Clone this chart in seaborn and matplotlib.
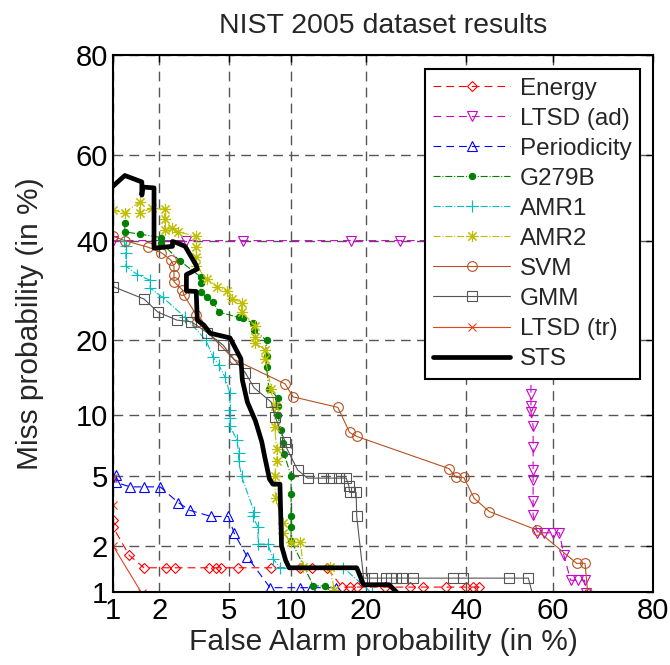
import numpy as np
import matplotlib
matplotlib.use("Agg")
import matplotlib.pyplot as plt
import seaborn as sns
from statistics import NormalDist

# ---------------- data (percent) ----------------
ticks = [1, 2, 5, 10, 20, 40, 60, 80]
tick_labels = ["1", "2", "5", "10", "20", "40", "60", "80"]

energy_fa = [1.0, 1.0, 1.28, 1.6, 2.2, 2.48, 3.9, 4.25, 4.5, 5.55, 8.1, 11.0, 12.3, 14.2,
             16.3, 17.5, 18.5, 23.3, 28.0, 30.5, 35.5, 40.0, 41.5, 43.0]
energy_miss = [2.85, 2.6, 1.75, 1.45, 1.45, 1.45, 1.45, 1.45, 1.45, 1.45, 1.45, 1.45, 1.45, 1.45,
               1.08, 1.08, 1.08, 1.08, 1.08, 1.08, 1.08, 1.08, 1.08, 1.08]

ltsd_ad_fa = [1.0, 2.9, 5.9, 17.6, 26.0, 55.0, 55.0, 55.0, 55.0, 55.5, 55.5, 55.5, 55.5, 55.5,
              55.5, 56.5, 58.0, 60.0, 61.5, 62.5, 64.0, 65.5, 67.0, 67.3]
ltsd_ad_miss = [40, 40, 40, 40, 40, 40, 12.3, 11.0, 10.3, 8.9, 7.1, 5.4, 4.8, 3.7,
                3.05, 2.4, 2.4, 2.4, 2.4, 1.75, 1.2, 1.2, 1.2, 0.98]

period_fa = [1.05, 1.05, 1.3, 1.6, 2.02, 2.6, 3.05, 4.0, 4.95, 5.3, 6.2, 8.0, 11.0, 12.2, 15.4]
period_miss = [5.1, 4.65, 4.4, 4.4, 4.4, 3.6, 3.25, 3.0, 3.0, 2.4, 1.7, 1.07, 1.07, 1.07, 1.07]

g279b_fa = [1.2, 1.2, 1.5, 2.05, 2.05, 2.65, 3.5, 3.5, 3.5, 3.8, 4.1, 4.4, 5.6, 5.9, 6.6, 6.7,
            7.7, 7.7, 7.7, 7.9, 8.7, 8.7, 8.7, 9.0, 9.2, 9.3, 10.0, 10.0, 10.0, 10.0, 10.0,
            12.5, 14.0, 15.0]
g279b_miss = [44, 42, 41.5, 40.7, 39.5, 35.5, 32, 30.7, 28.9, 27.8, 26.9, 25, 24, 23.8, 23, 21.7,
              20, 17.5, 15.9, 13, 11.9, 11, 10, 8.5, 7.4, 6.5, 5.05, 4.0, 3.0, 2.6, 2.15,
              1.1, 1.1, 0.97]

amr1_fa = [1.18, 1.22, 1.22, 1.22, 1.45, 1.75, 1.75, 2.1, 2.85, 3.75, 4.1, 4.4, 4.75, 5.05,
           5.05, 5.05, 5.05, 5.5, 5.6, 5.6, 5.8, 6.7, 6.6, 7.0, 7.0, 7.8, 8.3, 8.9, 16.5, 21.0]
amr1_miss = [40, 38.8, 37.3, 34.3, 32.5, 31.3, 29.7, 27.8, 24, 20, 17.3, 16.2, 14.5, 12.4,
             10.5, 9.7, 8.9, 7.6, 6.6, 6.0, 5.0, 3.2, 3.0, 2.6, 2.05, 2.05, 1.65, 1.45, 1.45, 0.98]

amr2_fa = [1.0, 1.2, 1.5, 1.5, 1.8, 2.15, 2.15, 2.15, 2.4, 2.6, 3.3, 3.3, 3.3, 3.3, 3.8, 4.3,
           4.9, 5.2, 5.8, 5.8, 6.8, 6.8, 6.8, 7.6, 7.6, 8.1, 8.4, 8.4, 8.6, 8.6, 8.4, 8.5,
           9.2, 9.2, 10.0, 11.0, 11.3, 14.6, 15.2]
amr2_miss = [47, 46.5, 49, 46.5, 47.5, 47.3, 45, 42.4, 42.8, 42, 41, 38.5, 36.3, 34.3, 31.5, 30,
             29, 27.5, 26.8, 25, 22.5, 20.6, 19.5, 18.5, 17, 13, 11, 8.8, 6.9, 6.0, 5.05, 3.8,
             2.75, 2.4, 2.1, 2.1, 1.47, 1.47, 1.03]

svm_fa = [1.0, 1.2, 1.7, 2.05, 2.35, 2.45, 2.45, 2.45, 2.75, 2.8, 3.3, 3.35, 5.3, 9.4, 10.2,
          15.7, 17.4, 18.5, 36.1, 37.7, 39.4, 41.8, 45.3, 56.3, 65.3, 67.1, 67.7]
svm_miss = [41, 40, 38.5, 37.3, 35.6, 34.3, 32.5, 31, 29.3, 28.3, 24.5, 23.2, 17, 13.6, 12,
            10.8, 8.3, 7.95, 5.5, 4.95, 4.95, 3.8, 3.2, 2.5, 1.55, 1.55, 0.97]

gmm_fa = [1.0, 1.6, 1.95, 2.55, 3.1, 3.8, 4.65, 5.3, 6.05, 6.7, 8.1, 8.45, 9.4, 9.6, 10.7, 11.8,
          13.7, 14.7, 15.8, 16.9, 17.3, 17.4, 18.4, 18.5, 19.6, 21.0, 23.4, 24.3, 25.3, 26.5,
          28.6, 37.0, 39.3, 49.9, 54.4, 55.5]
gmm_miss = [30, 27.5, 25, 23.5, 23.2, 21.3, 19.2, 17, 15.1, 13.1, 11.4, 9.8, 7.5, 6.9, 5.4, 4.9,
            4.9, 4.9, 4.9, 4.9, 4.45, 4.1, 4.1, 3.0, 1.24, 1.24, 1.24, 1.24, 1.24, 1.24,
            1.24, 1.24, 1.24, 1.24, 1.24, 0.93]

ltsd_tr_fa = [1.0, 1.0, 1.0, 1.55]
ltsd_tr_miss = [4.9, 3.5, 2.0, 0.98]

sts_fa = [1.0, 1.2, 1.55, 1.55, 1.57, 1.85, 1.85, 2.4, 2.4, 2.55, 2.85, 3.3, 3.35, 2.9, 2.9,
          3.3, 3.35, 3.65, 3.95, 5.05, 5.5, 5.75, 5.85, 6.2, 6.8, 7.3, 7.55, 7.95, 8.25, 8.9,
          9.05, 9.45, 9.8, 18.5, 19.6, 24.0, 25.6]
sts_miss = [52.7, 55.2, 53.7, 50.6, 52.5, 52.3, 38.3, 38.7, 39.8, 39.5, 38.7, 34.5, 33.7, 32.5,
            29.1, 29.0, 23.5, 22.6, 21.2, 20.4, 18.2, 17.1, 14.1, 11.4, 9.4, 7.5, 6.3, 4.85,
            4.55, 4.55, 2.0, 1.62, 1.45, 1.45, 1.12, 1.12, 0.98]

# ---------------- probit (normal deviate) scale ----------------
_N = NormalDist()


def _ppf(v):
    try:
        q = min(max(v / 100.0, 1e-9), 1 - 1e-9)
        return _N.inv_cdf(q)
    except Exception:
        return np.nan


def _cdf(v):
    try:
        return _N.cdf(v) * 100.0
    except Exception:
        return np.nan


def fwd(p):
    return np.vectorize(_ppf, otypes=[float])(np.asarray(p, dtype=float))


def inv(u):
    return np.vectorize(_cdf, otypes=[float])(np.asarray(u, dtype=float))


# ---------------- style ----------------
sns.set_style("white")
plt.rcParams["font.family"] = ["Liberation Sans", "DejaVu Sans"]

fig = plt.figure(figsize=(6.7, 6.65), dpi=100)
ax = fig.add_axes([113 / 670, 1 - 592 / 665, 540 / 670, 537 / 665])

DASH = (0, (7, 4.5))
series = [
    ("Energy", energy_fa, energy_miss, dict(color="#FF0000", linestyle=DASH, marker="D",
                                            markersize=5.5, mfc="none", mec="#FF0000")),
    ("LTSD (ad)", ltsd_ad_fa, ltsd_ad_miss, dict(color="#CC00CC", linestyle=DASH, marker="v",
                                                 markersize=7, mfc="none", mec="#CC00CC")),
    ("Periodicity", period_fa, period_miss, dict(color="#0000FF", linestyle=DASH, marker="^",
                                                 markersize=7, mfc="none", mec="#0000FF")),
    ("G279B", g279b_fa, g279b_miss, dict(color="#008000", linestyle="-.", marker="o",
                                         markersize=4.5, mfc="#008000", mec="#008000")),
    ("AMR1", amr1_fa, amr1_miss, dict(color="#00BFBF", linestyle="-.", marker="+",
                                      markersize=8, mfc="none", mec="#00BFBF")),
    ("AMR2", amr2_fa, amr2_miss, dict(color="#BFBF00", linestyle="-.", marker=(8, 2, 0),
                                      markersize=8, mfc="none", mec="#BFBF00")),
    ("SVM", svm_fa, svm_miss, dict(color="#B5521F", linestyle="-", marker="o",
                                   markersize=7, mfc="none", mec="#B5521F")),
    ("GMM", gmm_fa, gmm_miss, dict(color="#555555", linestyle="-", marker="s",
                                   markersize=6.5, mfc="none", mec="#555555")),
    ("LTSD (tr)", ltsd_tr_fa, ltsd_tr_miss, dict(color="#E8401C", linestyle="-", marker="x",
                                                 markersize=5.5, mfc="none", mec="#E8401C")),
]

for name, xs, ys, st in series:
    sns.lineplot(x=xs, y=ys, ax=ax, sort=False, estimator=None, label=name,
                 color=st["color"], linestyle=st["linestyle"], linewidth=0.8,
                 marker=st["marker"], markersize=st["markersize"],
                 markerfacecolor=st["mfc"], markeredgecolor=st["mec"],
                 markeredgewidth=0.8)

sns.lineplot(x=sts_fa, y=sts_miss, ax=ax, sort=False, estimator=None, label="STS",
             color="black", linewidth=3.4)

ax.set_xscale("function", functions=(fwd, inv))
ax.set_yscale("function", functions=(fwd, inv))
ax.set_xlim(1, 80)
ax.set_ylim(1, 80)
ax.set_xticks(ticks)
ax.set_xticklabels(tick_labels)
ax.set_yticks(ticks)
ax.set_yticklabels(tick_labels)
ax.minorticks_off()

ax.grid(True, color="#555555", linestyle=(0, (7, 4.5)), linewidth=1.0)
ax.set_axisbelow(True)
for sp in ax.spines.values():
    sp.set_color("black")
    sp.set_linewidth(1.5)

ax.tick_params(axis="both", which="major", direction="in", length=5, width=1,
               top=True, right=True, labelsize=21, pad=3.5, colors="black")

ax.set_title("NIST 2005 dataset results", fontsize=20.5, pad=16)
ax.set_xlabel("False Alarm probability (in %)", fontsize=21.5, labelpad=2)
ax.set_ylabel("Miss probability (in %)", fontsize=21.5, labelpad=23)

leg = ax.legend(loc="upper right", bbox_to_anchor=(0.976, 0.9735), borderaxespad=0,
                fontsize=17.5, frameon=True, fancybox=False, handlelength=3.15,
                handletextpad=0.4, labelspacing=0.33, borderpad=0.35, numpoints=1)
leg.get_frame().set_edgecolor("black")
leg.get_frame().set_linewidth(1.5)
leg.get_frame().set_alpha(1)

fig.savefig("out.png", dpi=100)
